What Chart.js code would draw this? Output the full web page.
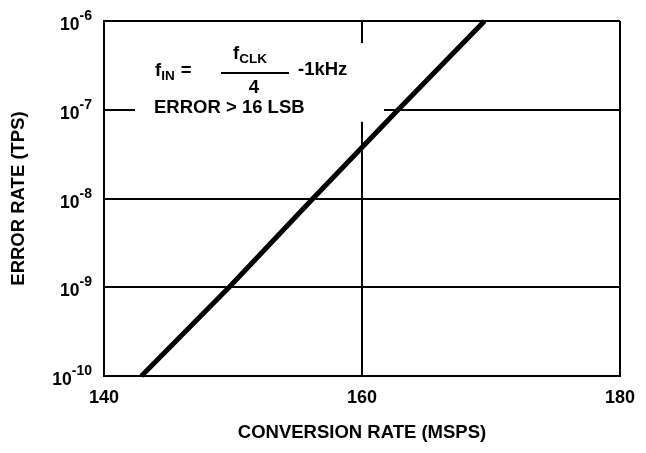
<!DOCTYPE html>
<html>
<head>
<meta charset="utf-8">
<script src="https://cdn.jsdelivr.net/npm/chart.js@4/dist/chart.umd.min.js"></script>
<style>
html, body { margin: 0; padding: 0; background: #fff; }
#wrap { width: 646px; height: 453px; }
</style>
</head>
<body>
<div id="wrap"><canvas id="chart" width="646" height="453"></canvas></div>
<script>
// conversion rate (MSPS) where the error-rate line crosses each decade
const convRate = [142.9, 149.7, 156.2, 162.8, 169.5];
const errorRate = [1e-10, 1e-9, 1e-8, 1e-7, 1e-6];
const xTicks = [140, 160, 180];
const yTickExps = [-10, -9, -8, -7, -6];
const xTitle = 'CONVERSION RATE (MSPS)';
const yTitle = 'ERROR RATE (TPS)';

const family = '"Liberation Sans", Arial, Helvetica, sans-serif';
const boldFont = size => 'bold ' + size + 'px ' + family;

/**
 * @Function to draw a run of text pieces, some of them lowered as subscripts.
 * Returns the x where the run ends.
 */
function drawRun(ctx, pieces, x, y) {
    pieces.forEach(p => {
        ctx.font = boldFont(p.size);
        x += p.dx || 0;
        ctx.fillText(p.text, x, y + (p.dy || 0));
        x += ctx.measureText(p.text).width;
    });
    return x;
}

const notePlugin = {
    id: 'note',
    // white box that breaks the grid lines behind the note
    beforeDatasetsDraw(chart) {
        const {ctx, chartArea} = chart;
        const xs = chart.scales.x, ys = chart.scales.y;
        const x0 = chartArea.left + 31;
        const x1 = xs.getPixelForValue(160) + 22;
        const y0 = chartArea.top + 22;
        const y1 = ys.getPixelForValue(1e-7) + 12;
        ctx.save();
        ctx.fillStyle = '#fff';
        ctx.fillRect(x0, y0, x1 - x0, y1 - y0);
        ctx.restore();
    },
    afterDraw(chart) {
        const {ctx, chartArea} = chart;
        const ys = chart.scales.y;
        ctx.save();
        ctx.fillStyle = '#000';
        ctx.textBaseline = 'alphabetic';
        ctx.textAlign = 'left';

        // y tick labels as 10 with a raised exponent
        const right = chartArea.left - 12;
        yTickExps.forEach(e => {
            const py = ys.getPixelForValue(Number('1e' + e));
            const exp = '-' + Math.abs(e);
            ctx.font = boldFont(14);
            const ew = ctx.measureText(exp).width;
            ctx.font = boldFont(17.5);
            const bw = ctx.measureText('10').width;
            ctx.fillText('10', right - ew - bw, py + 9);
            ctx.font = boldFont(14);
            ctx.fillText(exp, right - ew, py - 1);
        });

        // the note in the top left corner
        drawRun(ctx, [
            {text: 'f', size: 18.5},
            {text: 'IN', size: 13.5, dy: 4},
            {text: '=', size: 18.5, dx: 6}
        ], 155, 76);
        drawRun(ctx, [
            {text: 'f', size: 18.5},
            {text: 'CLK', size: 13.5, dy: 4}
        ], 233, 59);
        ctx.lineWidth = 2;
        ctx.beginPath();
        ctx.moveTo(221, 73);
        ctx.lineTo(289, 73);
        ctx.stroke();
        ctx.font = boldFont(18.5);
        ctx.textAlign = 'center';
        ctx.fillText('4', 254, 93);
        ctx.textAlign = 'left';
        ctx.fillText('-1kHz', 298, 75);
        ctx.fillText('ERROR > 16 LSB', 154, 113);
        ctx.restore();
    }
};

const ctx = document.getElementById('chart').getContext('2d');
new Chart(ctx, {
    type: 'line',
    data: {
        datasets: [{
            data: convRate.map((x, i) => ({x: x, y: errorRate[i]})),
            borderColor: '#000',
            borderWidth: 5,
            borderCapStyle: 'butt',
            pointRadius: 0,
            fill: false,
            tension: 0,
            clip: 6
        }]
    },
    options: {
        responsive: false,
        animation: false,
        layout: {padding: {top: 21, right: 23, left: 0, bottom: 0}},
        plugins: {legend: {display: false}, tooltip: {enabled: false}},
        scales: {
            x: {
                type: 'linear',
                min: 140,
                max: 180,
                afterBuildTicks: s => { s.ticks = xTicks.map(v => ({value: v})); },
                afterFit: s => { s.height = 77; },
                grid: {color: '#000', lineWidth: 2, drawTicks: false},
                border: {color: '#000', width: 2},
                ticks: {color: '#000', padding: 11, font: {family: family, size: 18, weight: 'bold'}},
                title: {
                    display: true, text: xTitle, color: '#000',
                    font: {family: family, size: 18.5, weight: 'bold'},
                    padding: {top: 0, bottom: 9}
                }
            },
            y: {
                type: 'logarithmic',
                min: 1e-10,
                max: 1e-6,
                afterBuildTicks: s => { s.ticks = yTickExps.map(e => ({value: Number('1e' + e)})); },
                afterFit: s => { s.width = 104; },
                grid: {color: '#000', lineWidth: 2, drawTicks: false},
                border: {color: '#000', width: 2},
                ticks: {display: false},
                title: {
                    display: true, text: yTitle, color: '#000',
                    font: {family: family, size: 18.5, weight: 'bold'},
                    padding: {top: 8, bottom: 0}
                }
            }
        }
    },
    plugins: [notePlugin]
});
</script>
</body>
</html>
